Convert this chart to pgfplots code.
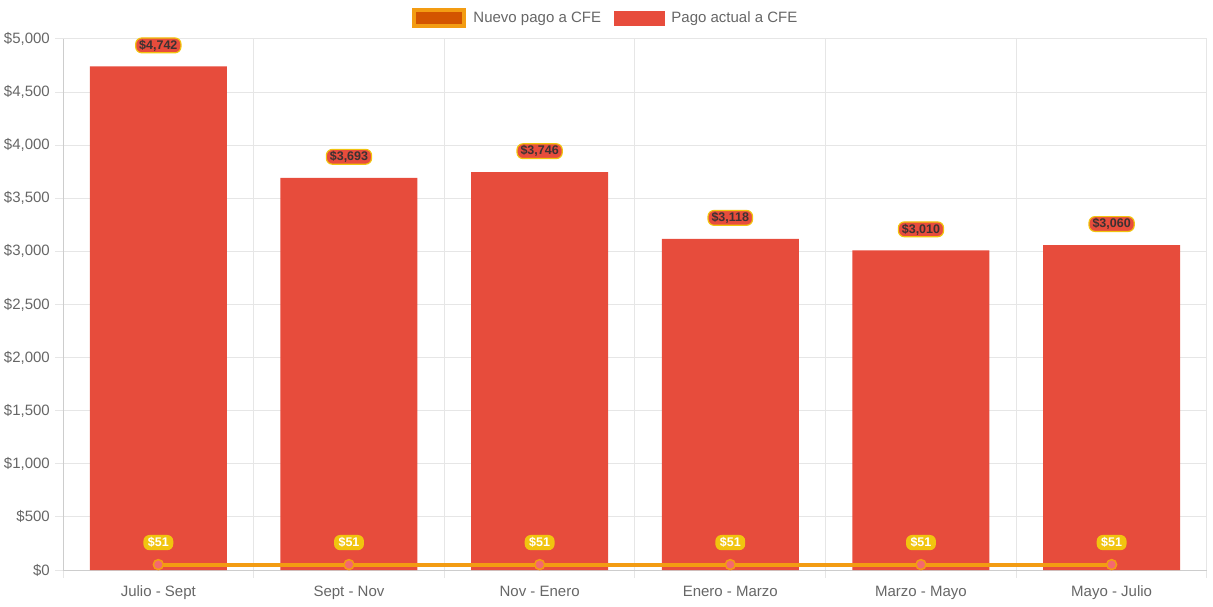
\documentclass[border=0pt]{standalone}
\usepackage{fontspec}
\setmainfont{Liberation Sans}
\usepackage{pgfplots}
\pgfplotsset{compat=1.18}
\usepackage{pgfplotstable}
\definecolor{cred}{RGB}{231,76,60}
\definecolor{cyellow}{RGB}{241,196,15}
\definecolor{corange}{RGB}{243,156,18}
\definecolor{cdorange}{RGB}{211,84,0}
\definecolor{cpink}{RGB}{244,104,112}
\definecolor{cgrid}{RGB}{230,230,230}
\definecolor{caxis}{RGB}{205,205,205}
\definecolor{ctext}{RGB}{102,102,102}
\definecolor{cdark}{RGB}{60,50,50}
\pgfplotstableread{
x y label
0 4742 \$4,742
1 3693 \$3,693
2 3746 \$3,746
3 3118 \$3,118
4 3010 \$3,010
5 3060 \$3,060
}\actual
\pgfplotstableread{
x y label
0 51 \$51
1 51 \$51
2 51 \$51
3 51 \$51
4 51 \$51
5 51 \$51
}\nuevo
\begin{document}
\begin{tikzpicture}[x=1pt,y=1pt]
\useasboundingbox (0,0) rectangle (1213,606);
\begin{axis}[
  at={(63pt,36pt)}, anchor=south west,
  scale only axis, width=1144pt, height=531pt,
  xmin=-0.5, xmax=5.5, ymin=0, ymax=5000,
  clip=false,
  axis lines*=left,
  axis line style={caxis, line width=1pt},
  xtick={0,1,2,3,4,5},
  xticklabels={Julio - Sept, Sept - Nov, Nov - Enero, Enero - Marzo, Marzo - Mayo, Mayo - Julio},
  minor xtick={-0.5,0.5,...,5.5},
  xminorgrids, ymajorgrids,
  minor grid style={cgrid, line width=1pt},
  major grid style={cgrid, line width=1pt},
  tick align=outside,
  major x tick style={draw=none},
  minor x tick style={cgrid, line width=1pt},
  major y tick style={cgrid, line width=1pt},
  minor tick length=8pt, major tick length=8pt,
  ytick={0,500,...,5000},
  yticklabels={\$0,\$500,\$1{,}000,\$1{,}500,\$2{,}000,\$2{,}500,\$3{,}000,\$3{,}500,\$4{,}000,\$4{,}500,\$5{,}000},
  xticklabel style={font=\fontsize{15}{18}\selectfont, text=ctext, anchor=base, yshift=-18pt},
  yticklabel style={font=\fontsize{15}{18}\selectfont, text=ctext, anchor=east, inner sep=0pt, xshift=-5pt},
  legend style={at={(0.4746,1.0395)}, anchor=center, draw=none, fill=none,
    legend columns=2, font=\fontsize{15}{18}\selectfont, text=ctext,
    /tikz/every odd column/.append style={column sep=5pt},
    /tikz/every even column/.append style={column sep=11pt}},
  legend cell align=left,
]
\addlegendimage{legend image code/.code={\draw[fill=cdorange, draw=corange, line width=4pt] (0pt,-8pt) rectangle (50pt,8pt);}}
\addlegendentry{Nuevo pago a CFE}
\addlegendimage{legend image code/.code={\fill[cred] (0pt,-7pt) rectangle (50pt,7pt);}}
\addlegendentry{Pago actual a CFE}
\addplot[ybar, bar width=137pt, fill=cred, draw=none, forget plot,
  point meta=explicit symbolic, nodes near coords,
  every node near coord/.style={anchor=center, yshift=21pt, fill=cred, draw=cyellow, line width=1.2pt,
    rounded corners=6pt, inner xsep=3.5pt, inner ysep=1.8pt, text=cdark,
    font=\fontsize{12.5}{14}\selectfont\bfseries}]
  table[x=x, y=y, meta=label]{\actual};
\addplot[color=corange, line width=4pt, forget plot,
  mark=*, mark size=5pt, mark options={fill=cpink, draw=corange, line width=1.5pt},
  point meta=explicit symbolic, nodes near coords,
  every node near coord/.style={anchor=center, yshift=22pt, fill=cyellow, draw=none,
    rounded corners=6pt, inner xsep=4.5pt, inner ysep=2.5pt, text=white,
    font=\fontsize{12.5}{14}\selectfont\bfseries}]
  table[x=x, y=y, meta=label]{\nuevo};
\end{axis}
\end{tikzpicture}
\end{document}
